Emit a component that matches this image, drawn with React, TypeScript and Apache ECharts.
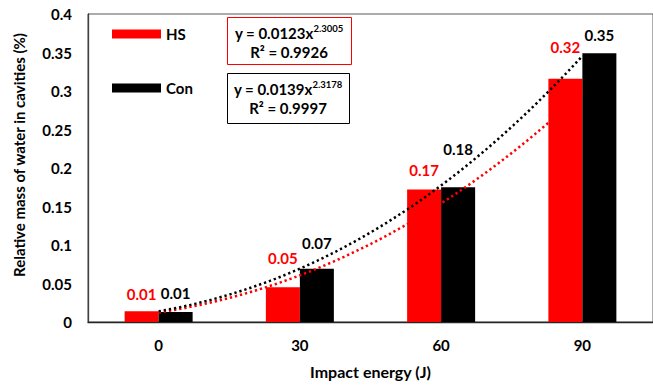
import React, { useEffect, useRef } from "react";
import * as echarts from "echarts";

// Impact energy categories (J)
const categories = ["0", "30", "60", "90"];
// Relative mass of water in cavities (%)
const hsValues = [0.014, 0.045, 0.172, 0.316];
const conValues = [0.013, 0.069, 0.175, 0.349];
// Power-law trendlines y = a·x^b (x = category number 1..4)
const hsFit = { a: 0.0123, b: 2.3005, r2: "0.9926" };
const conFit = { a: 0.0139, b: 2.3178, r2: "0.9997" };
const yTicks = { min: 0, max: 0.4, interval: 0.05 };

// extra lift of each value label above its bar, in px
const hsLabelLift = [5, 17, 7, 19];
const conLabelLift = [6, 13, 26, 6];

const FONT = "Lato, 'Open Sans', sans-serif";
const RED = "#ff0000";
const BLACK = "#000000";
const FS = 15;

const fmt2 = (v: number) => (Math.round(v * 100 + 1e-6) / 100).toFixed(2);

function curve(fit: { a: number; b: number }, from: number, to: number, n: number) {
  const pts: [number, number][] = [];
  for (let i = 0; i <= n; i++) {
    const x = from + ((to - from) * i) / n;
    pts.push([x, fit.a * Math.pow(x, fit.b)]);
  }
  return pts;
}

function barData(values: number[], lifts: number[], color: string) {
  return values.map((v, i) => ({
    value: v,
    label: {
      show: true,
      position: "top",
      distance: 5,
      offset: [0, -lifts[i]],
      formatter: fmt2(v),
      color,
      fontFamily: FONT,
      fontWeight: "bold",
      fontSize: FS,
    },
  }));
}

function equationText(fit: { a: number; b: number; r2: string }, cx: number, top: number) {
  return {
    type: "text",
    x: cx,
    y: top,
    z: 10,
    style: {
      text: `{m|y = ${fit.a}x}{s|${fit.b.toFixed(4)}}\n{m|R² = ${fit.r2}}`,
      align: "center",
      verticalAlign: "top",
      fill: BLACK,
      fontFamily: FONT,
      fontWeight: "bold",
      fontSize: FS,
      rich: {
        m: { fontFamily: FONT, fontWeight: "bold", fontSize: FS, lineHeight: 19, fill: BLACK },
        s: {
          fontFamily: FONT,
          fontWeight: "bold",
          fontSize: 9.5,
          lineHeight: 19,
          verticalAlign: "top",
          padding: [0, 0, 6, 0],
          fill: BLACK,
        },
      },
    },
  };
}

export default function App() {
  const ref = useRef<HTMLDivElement>(null);

  useEffect(() => {
    if (!ref.current) return;
    const chart = echarts.init(ref.current, null, { renderer: "svg" });
    chart.setOption({
      animation: false,
      backgroundColor: "#ffffff",
      textStyle: { fontFamily: FONT },
      grid: {
        left: 88,
        top: 14,
        right: -3,
        bottom: 64,
        show: true,
        borderColor: "#595959",
        borderWidth: 1,
        backgroundColor: "transparent",
      },
      legend: {
        data: ["HS", "Con"],
        orient: "vertical",
        left: 112,
        top: 25,
        padding: 0,
        itemWidth: 49,
        itemHeight: 9,
        itemGap: 36,
        icon: "rect",
        textStyle: { fontFamily: FONT, fontWeight: "bold", fontSize: FS, color: BLACK, lineHeight: 18 },
      },
      xAxis: [
        {
          type: "category",
          data: categories,
          boundaryGap: true,
          axisLine: { lineStyle: { color: "#262626", width: 1.3 } },
          axisTick: { show: false },
          axisLabel: { fontFamily: FONT, fontWeight: "bold", fontSize: FS, color: BLACK, margin: 15 },
          name: "Impact energy (J)",
          nameLocation: "middle",
          nameGap: 41,
          nameTextStyle: { fontFamily: FONT, fontWeight: "bold", fontSize: 16, color: BLACK },
        },
        {
          type: "value",
          min: 0.5,
          max: 4.5,
          show: false,
        },
      ],
      yAxis: {
        type: "value",
        min: yTicks.min,
        max: yTicks.max,
        interval: yTicks.interval,
        axisLine: { show: true, lineStyle: { color: "#404040", width: 1.3 } },
        axisTick: { show: false },
        splitLine: { show: false },
        axisLabel: { fontFamily: FONT, fontWeight: "bold", fontSize: FS, color: BLACK, margin: 16 },
        name: "Relative mass of water in cavities (%)",
        nameLocation: "middle",
        nameGap: 62,
        nameTextStyle: {
          fontFamily: FONT,
          fontWeight: "bold",
          fontSize: 15,
          color: BLACK,
          padding: [0, 0, 0, 26],
        },
      },
      series: [
        {
          name: "HS",
          type: "bar",
          barWidth: 34,
          barGap: "0%",
          itemStyle: { color: RED },
          data: barData(hsValues, hsLabelLift, RED),
          z: 2,
        },
        {
          name: "Con",
          type: "bar",
          barWidth: 34,
          barGap: "0%",
          itemStyle: { color: BLACK },
          data: barData(conValues, conLabelLift, BLACK),
          z: 2,
        },
        {
          name: "HS fit",
          type: "line",
          xAxisIndex: 1,
          showSymbol: false,
          lineStyle: { color: RED, width: 2.5, type: [2.3, 2.9] },
          data: curve(hsFit, 1, 4, 80),
          z: 5,
        },
        {
          name: "Con fit",
          type: "line",
          xAxisIndex: 1,
          showSymbol: false,
          lineStyle: { color: BLACK, width: 2.5, type: [2.3, 2.9] },
          data: curve(conFit, 1, 4, 80),
          z: 5,
        },
      ],
      graphic: [
        {
          type: "rect",
          shape: { x: 227.5, y: 17.5, width: 124, height: 47 },
          style: { fill: "#ffffff", stroke: RED, lineWidth: 1 },
          z: 9,
        },
        equationText(hsFit, 289, 23),
        {
          type: "rect",
          shape: { x: 227.5, y: 73.5, width: 122, height: 50 },
          style: { fill: "#ffffff", stroke: BLACK, lineWidth: 1 },
          z: 9,
        },
        equationText(conFit, 288, 79),
      ],
    });
    return () => chart.dispose();
  }, []);

  return (
    <div
      ref={ref}
      style={{ position: "fixed", left: 0, top: 0, width: 653, height: 386, background: "#ffffff" }}
    />
  );
}
